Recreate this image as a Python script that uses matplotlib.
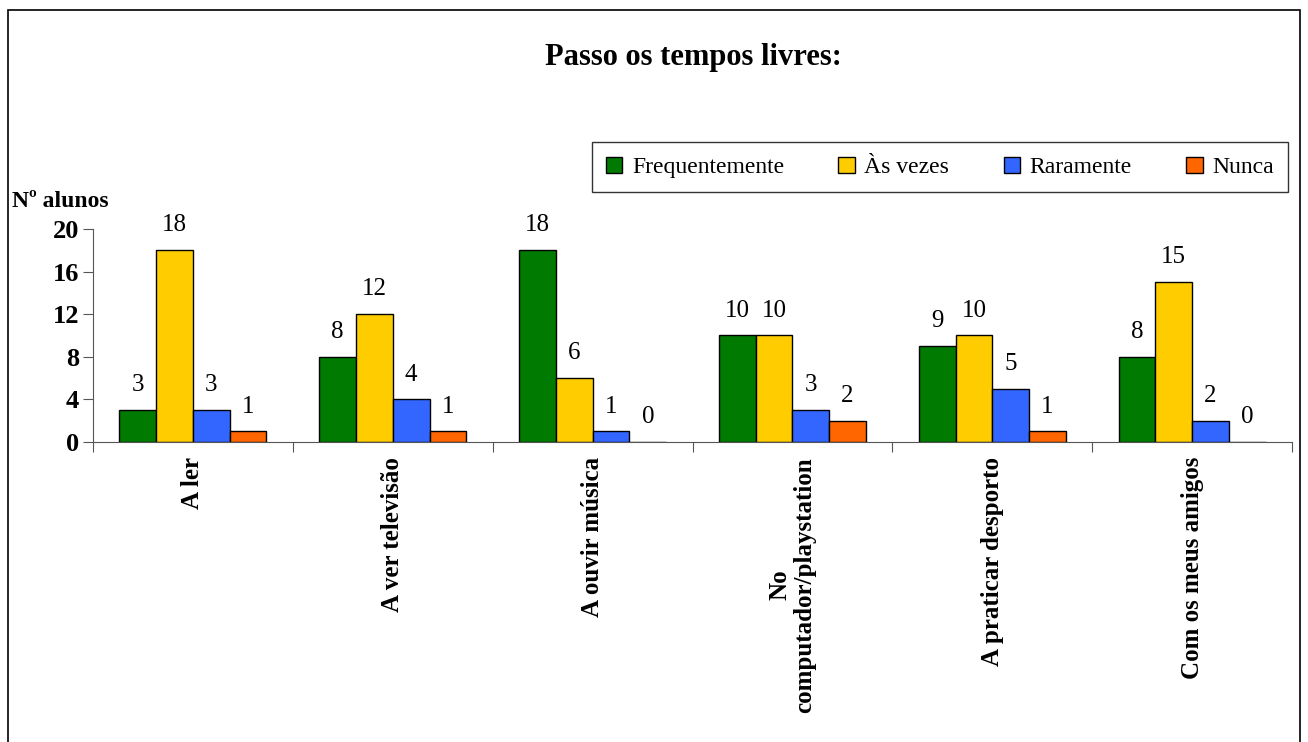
import matplotlib.pyplot as plt
import numpy as np

plt.rcParams['font.family'] = ['Liberation Serif', 'DejaVu Serif']

categories = ['A ler', 'A ver televisão', 'A ouvir música',
              'No\ncomputador/playstation', 'A praticar desporto', 'Com os meus amigos']
series = ['Frequentemente', 'Às vezes', 'Raramente', 'Nunca']
frequentemente = [3, 8, 18, 10, 9, 8]
as_vezes = [18, 12, 6, 10, 10, 15]
raramente = [3, 4, 1, 3, 5, 2]
nunca = [1, 1, 0, 2, 1, 0]
colors = ['#007A00', '#FFCC00', '#3366FF', '#FF6600']
yticks = [0, 4, 8, 12, 16, 20]

fig = plt.figure(figsize=(13.08, 7.42), dpi=100)
# outer frame
fig.patches.append(plt.Rectangle((0.006, -0.01), 0.988, 0.997, transform=fig.transFigure,
                                 fill=False, edgecolor='black', linewidth=1.2))

ax = fig.add_axes([0.0711, 0.4043, 0.9167, 0.2871])
x = np.arange(len(categories)) + 0.5
w = 0.184
data = [frequentemente, as_vezes, raramente, nunca]
for i, (vals, c, name) in enumerate(zip(data, colors, series)):
    pos = x + (i - 1.5) * w
    ax.bar(pos, vals, w, color=c, edgecolor='black', linewidth=1.0, label=name)
    for p, v in zip(pos, vals):
        ax.text(p, v + 1.3, str(v), ha='center', va='bottom', fontsize=18)

ax.set_xlim(0, len(categories))
ax.set_ylim(0, 20)
ax.set_yticks(yticks)
ax.set_yticklabels([str(t) for t in yticks], fontsize=19, fontweight='bold')
ax.set_xticks(np.arange(len(categories) + 1))
ax.set_xticklabels([])
ax.tick_params(axis='x', direction='out', length=7, color='#555555')
ax.tick_params(axis='y', direction='out', length=7, color='#555555', pad=3)
for s in ['top', 'right']:
    ax.spines[s].set_visible(False)
ax.spines['left'].set_color('#555555')
ax.spines['bottom'].set_color('#555555')

for xi, cat in zip(x, categories):
    ax.text(xi, -0.07, cat, transform=ax.get_xaxis_transform(), rotation=90,
            ha='center', va='top', fontsize=18, fontweight='bold', multialignment='center',
            linespacing=1.1)

fig.text(0.009, 0.728, 'Nº alunos', fontsize=17, fontweight='bold', ha='left', va='center')
fig.text(0.53, 0.922, 'Passo os tempos livres:', fontsize=22, fontweight='bold',
         ha='center', va='center')

leg = fig.legend(loc='center', bbox_to_anchor=(0.7185, 0.7745), ncol=4, fontsize=17,
                 frameon=True, fancybox=False, edgecolor='black', handlelength=0.7,
                 handleheight=0.7, columnspacing=2.3, handletextpad=0.4,
                 borderpad=0.6)
leg.get_frame().set_linewidth(1.0)

fig.savefig('out.png', dpi=100)
